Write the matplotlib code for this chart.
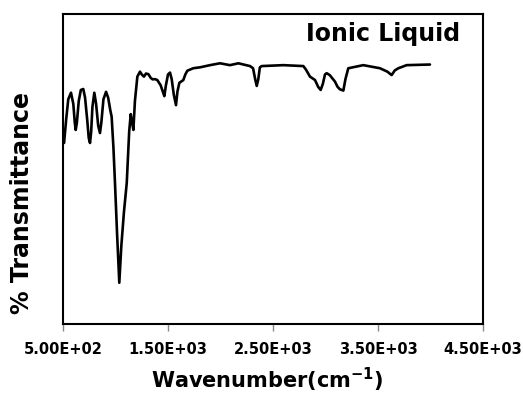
import matplotlib
matplotlib.use("Agg")
import matplotlib.pyplot as plt

plt.rcParams['font.family'] = ['DejaVu Sans']

wavenumber = [510, 530, 550, 576, 598, 612, 621, 632, 650, 670, 693, 710, 730, 745, 757,
              768, 780, 798, 815, 835, 852, 865, 885, 910, 930, 950, 963, 980, 995, 1015,
              1036, 1055, 1080, 1107, 1130, 1145, 1158, 1170, 1185, 1208, 1233, 1250,
              1271, 1290, 1313, 1335, 1354, 1375, 1398, 1430, 1450, 1465, 1480, 1500,
              1519, 1535, 1555, 1576, 1590, 1608, 1646, 1665, 1684, 1740, 1805, 1900,
              1995, 2090, 2170, 2281, 2310, 2330, 2345, 2360, 2375, 2392, 2598, 2789,
              2815, 2852, 2900, 2930, 2954, 2975, 2995, 3011, 3040, 3090, 3115, 3138,
              3170, 3190, 3217, 3360, 3519, 3589, 3630, 3660, 3694, 3773, 3995]
transmittance = [58.4, 66.0, 72.5, 74.6, 71.0, 65.0, 62.6, 65.0, 72.0, 75.5, 75.8, 73.0,
                 66.0, 60.0, 58.4, 62.0, 70.0, 74.6, 71.0, 64.0, 61.6, 65.0, 72.5, 74.9,
                 73.0, 69.0, 66.9, 57.0, 45.4, 29.0, 13.3, 25.0, 36.0, 45.5, 62.0, 67.7,
                 65.0, 62.6, 72.0, 79.8, 81.4, 80.5, 79.8, 80.8, 80.6, 79.4, 78.9, 79.0,
                 78.7, 77.0, 75.0, 73.5, 77.0, 80.5, 81.1, 79.0, 74.0, 70.6, 75.0, 77.8,
                 78.7, 80.5, 81.7, 82.5, 82.8, 83.5, 84.1, 83.5, 84.1, 83.2, 82.5, 79.0,
                 76.8, 79.0, 82.8, 83.2, 83.5, 83.2, 82.0, 79.8, 78.7, 76.5, 75.5, 77.5,
                 80.5, 80.9, 80.3, 78.2, 76.5, 75.7, 75.3, 79.0, 82.5, 83.5, 82.5, 81.4,
                 80.3, 81.8, 82.5, 83.5, 83.7]
tick_values = [500, 1500, 2500, 3500, 4500]
tick_labels = ['5.00E+02', '1.50E+03', '2.50E+03', '3.50E+03', '4.50E+03']

fig = plt.figure(figsize=(5.23, 4.00), dpi=100)
ax = fig.add_axes([0.1205, 0.19, 0.803, 0.775])
ax.plot(wavenumber, transmittance, color='black', linewidth=1.9,
        solid_joinstyle='round', solid_capstyle='round')
ax.set_xlim(500, 4500)
ax.set_ylim(0, 100)
ax.set_xticks(tick_values)
ax.set_xticklabels(tick_labels, fontsize=10.5, fontweight='bold')
ax.set_yticks([])
ax.tick_params(axis='x', direction='out', length=5, width=1, color='#888888', pad=8)
for s in ax.spines.values():
    s.set_linewidth(1.5)
ax.set_xlabel('Wavenumber(cm$^{\\mathbf{-1}}$)', fontsize=15, fontweight='bold', labelpad=9)
ax.xaxis.set_label_coords(0.487, -0.135)
fig.text(22 / 523, 1 - 203 / 400, '% Transmittance', rotation=90, ha='center', va='center',
         fontsize=17, fontweight='bold')
ax.text(0.945, 0.975, 'Ionic Liquid', transform=ax.transAxes, ha='right', va='top',
        fontsize=17, fontweight='bold')
fig.savefig('out.png', dpi=100)
